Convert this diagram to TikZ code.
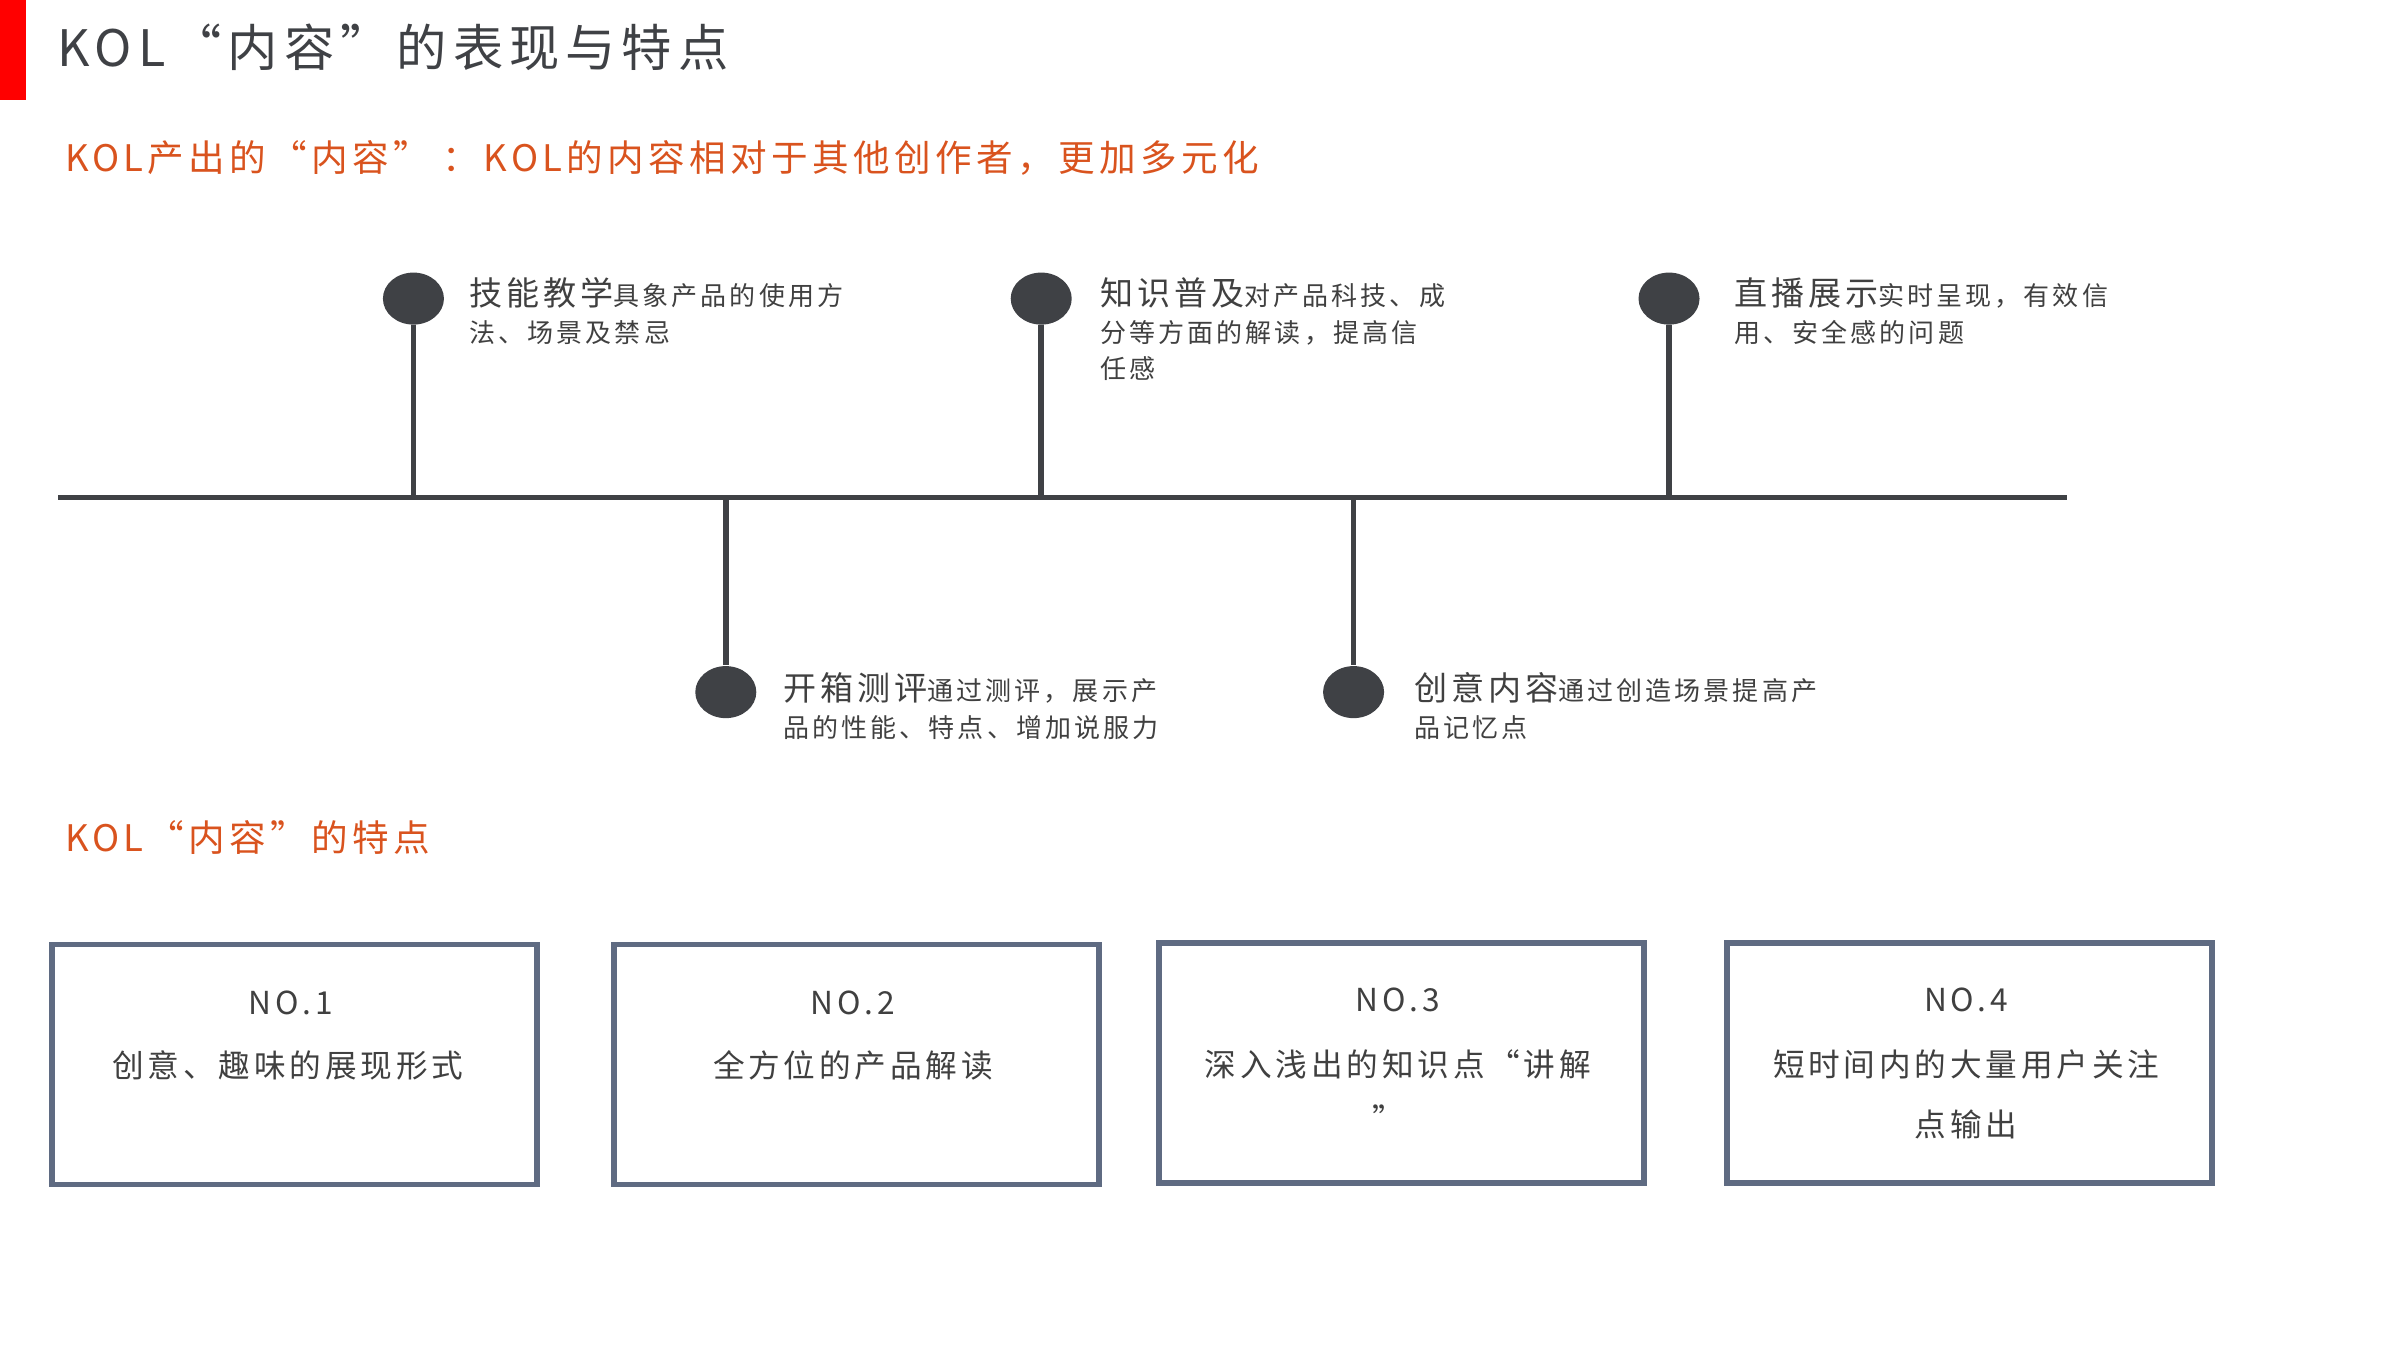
\documentclass[tikz,border=0pt]{standalone}
\usepackage{fontspec}
\usetikzlibrary{shapes.geometric}
\setmainfont{Noto Sans CJK SC}
\newfontfamily\cjk{Noto Sans CJK SC}[LetterSpace=12]
\definecolor{dk}{HTML}{3F4145}
\definecolor{org}{HTML}{D9531E}
\definecolor{bx}{HTML}{5F6B82}
\definecolor{tx}{HTML}{404040}
\begin{document}
\begin{tikzpicture}[x=0.015312cm,y=-0.015312cm,
  stem/.style={line width=1.6pt,draw=dk},
  dot/.style={ellipse,fill=dk,minimum width=0.61cm,minimum height=0.52cm,inner sep=0},
  lbl/.style={anchor=north west,align=left,inner sep=0,text=tx,font=\cjk\fontsize{7.4}{10.4}\selectfont},
  card/.style={draw=bx,line width=1.6pt,minimum width=4.85cm,minimum height=2.40cm,anchor=north west},
  ctext/.style={text=tx,font=\cjk\fontsize{9}{12}\selectfont,inner sep=0},
  sec/.style={anchor=west,inner sep=0,text=org,font=\cjk\fontsize{10.4}{12}\selectfont}]
\useasboundingbox (0,0) rectangle (1567.4,881.7);
\fill[red] (0,0) rectangle (17,65);
\node[anchor=west,inner sep=0,text=dk,font=\cjk\fontsize{14.3}{16}\selectfont] (title) at (37,31) {KOL“内容”的表现与特点};
\node[sec] (s1) at (42,103) {KOL产出的“内容” ：KOL的内容相对于其他创作者，更加多元化};
\coordinate (L) at (38,325); \coordinate (R) at (1350,325);
\draw[stem] (L) -- (R);
\foreach \n/\x in {a/270,b/680,c/1090}{
  \coordinate (\n0) at (\x,325);
  \node[dot] (\n) at (\x,195) {};
  \draw[stem] (\n) -- (\n0);
}
\foreach \n/\x in {d/474,e/884}{
  \coordinate (\n0) at (\x,325);
  \node[dot] (\n) at (\x,452) {};
  \draw[stem] (\n0) -- (\n);
}
\newcommand\hd[1]{{\fontsize{9.4}{10.4}\selectfont #1}}
\node[lbl] (ta) at (306,181) {\hd{技能教学}具象产品的使用方\\法、场景及禁忌};
\node[lbl] (tb) at (718,181) {\hd{知识普及}对产品科技、成\\分等方面的解读，提高信\\任感};
\node[lbl] (tc) at (1132,181) {\hd{直播展示}实时呈现，有效信\\用、安全感的问题};
\node[lbl] (td) at (511,439) {\hd{开箱测评}通过测评，展示产\\品的性能、特点、增加说服力};
\node[lbl] (te) at (923,439) {\hd{创意内容}通过创造场景提高产\\品记忆点};
\node[sec] (s2) at (42,547) {KOL“内容”的特点};
\node[card] (c1) at (32,615) {}; \node[card] (c2) at (399,615) {};
\node[card] (c3) at (755,614) {}; \node[card] (c4) at (1126,614) {};
\node[ctext] at (190,655) {NO.1}; \node[ctext] at (188,696) {创意、趣味的展现形式};
\node[ctext] at (557,655) {NO.2}; \node[ctext] at (557,696) {全方位的产品解读};
\node[ctext] at (913,653) {NO.3}; \node[ctext] at (913,695) {深入浅出的知识点“讲解};
\node[ctext] at (907,730) {”};
\node[ctext] at (1284,653) {NO.4}; \node[ctext] at (1284,695) {短时间内的大量用户关注};
\node[ctext] at (1284,734) {点输出};
\end{tikzpicture}
\end{document}
